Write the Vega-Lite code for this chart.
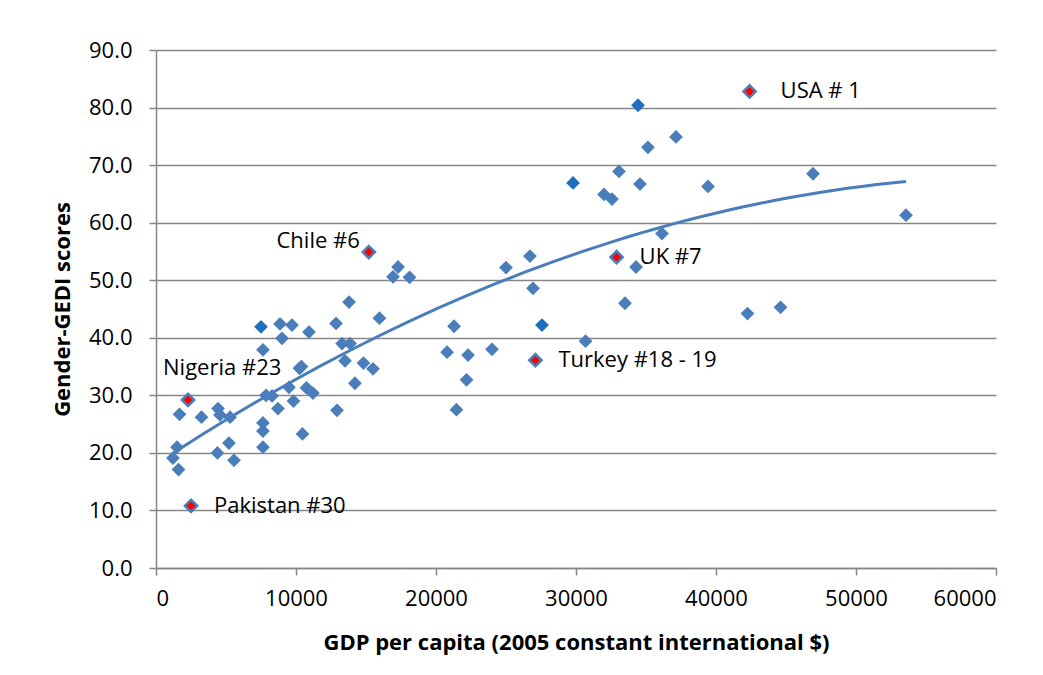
{
  "$schema": "https://vega.github.io/schema/vega-lite/v6.json",
  "width": 840,
  "height": 518,
  "autosize": "none",
  "padding": {"left": 156, "top": 50, "right": 47, "bottom": 107},
  "background": "white",
  "config": {
    "view": {"stroke": null},
    "font": "Open Sans",
    "axis": {
      "labelFont": "Open Sans",
      "labelFontSize": 22,
      "labelColor": "#000000",
      "titleFont": "Open Sans",
      "titleFontSize": 22,
      "titleFontWeight": "bold",
      "titleColor": "#000000",
      "domainColor": "#868686",
      "domainWidth": 1.5,
      "tickColor": "#868686",
      "tickWidth": 1.5,
      "tickSize": 7,
      "gridColor": "#868686",
      "gridWidth": 1.5
    }
  },
  "datasets": {
    "pts": [
      {"country": "USA # 1", "gdp": 42400, "score": 82.8, "type": "red"},
      {"country": "UK #7", "gdp": 32900, "score": 54.0, "type": "red"},
      {"country": "Chile #6", "gdp": 15200, "score": 54.9, "type": "red"},
      {"country": "Turkey #18 - 19", "gdp": 27100, "score": 36.1, "type": "red"},
      {"country": "Nigeria #23", "gdp": 2290, "score": 29.2, "type": "red"},
      {"country": "Pakistan #30", "gdp": 2500, "score": 10.8, "type": "red"},
      {"country": "", "gdp": 34430, "score": 80.4, "type": "dark"},
      {"country": "", "gdp": 37140, "score": 74.9, "type": "normal"},
      {"country": "", "gdp": 35140, "score": 73.1, "type": "normal"},
      {"country": "", "gdp": 29790, "score": 66.9, "type": "dark"},
      {"country": "", "gdp": 33070, "score": 68.9, "type": "normal"},
      {"country": "", "gdp": 34570, "score": 66.7, "type": "normal"},
      {"country": "", "gdp": 39430, "score": 66.3, "type": "normal"},
      {"country": "", "gdp": 46930, "score": 68.5, "type": "normal"},
      {"country": "", "gdp": 32000, "score": 64.9, "type": "normal"},
      {"country": "", "gdp": 32570, "score": 64.1, "type": "normal"},
      {"country": "", "gdp": 36140, "score": 58.1, "type": "normal"},
      {"country": "", "gdp": 53570, "score": 61.3, "type": "normal"},
      {"country": "", "gdp": 34290, "score": 52.3, "type": "normal"},
      {"country": "", "gdp": 26710, "score": 54.2, "type": "normal"},
      {"country": "", "gdp": 25000, "score": 52.2, "type": "normal"},
      {"country": "", "gdp": 26930, "score": 48.6, "type": "normal"},
      {"country": "", "gdp": 27570, "score": 42.2, "type": "dark"},
      {"country": "", "gdp": 33500, "score": 46.0, "type": "normal"},
      {"country": "", "gdp": 30680, "score": 39.4, "type": "normal"},
      {"country": "", "gdp": 42250, "score": 44.2, "type": "normal"},
      {"country": "", "gdp": 44610, "score": 45.3, "type": "normal"},
      {"country": "", "gdp": 17290, "score": 52.3, "type": "normal"},
      {"country": "", "gdp": 16930, "score": 50.6, "type": "normal"},
      {"country": "", "gdp": 18110, "score": 50.5, "type": "normal"},
      {"country": "", "gdp": 13790, "score": 46.2, "type": "normal"},
      {"country": "", "gdp": 15960, "score": 43.4, "type": "normal"},
      {"country": "", "gdp": 12860, "score": 42.5, "type": "normal"},
      {"country": "", "gdp": 10930, "score": 41.0, "type": "normal"},
      {"country": "", "gdp": 8860, "score": 42.4, "type": "normal"},
      {"country": "", "gdp": 9710, "score": 42.2, "type": "normal"},
      {"country": "", "gdp": 7500, "score": 41.9, "type": "dark"},
      {"country": "", "gdp": 9000, "score": 39.9, "type": "normal"},
      {"country": "", "gdp": 7640, "score": 37.9, "type": "normal"},
      {"country": "", "gdp": 13290, "score": 39.0, "type": "normal"},
      {"country": "", "gdp": 13860, "score": 39.0, "type": "normal"},
      {"country": "", "gdp": 13500, "score": 36.0, "type": "normal"},
      {"country": "", "gdp": 14820, "score": 35.6, "type": "normal"},
      {"country": "", "gdp": 15500, "score": 34.6, "type": "normal"},
      {"country": "", "gdp": 21290, "score": 42.0, "type": "normal"},
      {"country": "", "gdp": 20790, "score": 37.5, "type": "normal"},
      {"country": "", "gdp": 22290, "score": 37.0, "type": "normal"},
      {"country": "", "gdp": 24000, "score": 38.0, "type": "normal"},
      {"country": "", "gdp": 22180, "score": 32.7, "type": "normal"},
      {"country": "", "gdp": 21460, "score": 27.5, "type": "normal"},
      {"country": "", "gdp": 10390, "score": 35.0, "type": "normal"},
      {"country": "", "gdp": 10250, "score": 34.7, "type": "normal"},
      {"country": "", "gdp": 14210, "score": 32.1, "type": "normal"},
      {"country": "", "gdp": 9500, "score": 31.4, "type": "normal"},
      {"country": "", "gdp": 10750, "score": 31.3, "type": "normal"},
      {"country": "", "gdp": 11210, "score": 30.4, "type": "normal"},
      {"country": "", "gdp": 9820, "score": 29.0, "type": "normal"},
      {"country": "", "gdp": 7860, "score": 30.0, "type": "normal"},
      {"country": "", "gdp": 8290, "score": 29.9, "type": "normal"},
      {"country": "", "gdp": 8710, "score": 27.7, "type": "normal"},
      {"country": "", "gdp": 12930, "score": 27.4, "type": "normal"},
      {"country": "", "gdp": 7640, "score": 25.2, "type": "normal"},
      {"country": "", "gdp": 7640, "score": 23.8, "type": "normal"},
      {"country": "", "gdp": 10460, "score": 23.3, "type": "normal"},
      {"country": "", "gdp": 7640, "score": 21.0, "type": "normal"},
      {"country": "", "gdp": 1680, "score": 26.7, "type": "normal"},
      {"country": "", "gdp": 3250, "score": 26.2, "type": "normal"},
      {"country": "", "gdp": 4430, "score": 27.7, "type": "normal"},
      {"country": "", "gdp": 4570, "score": 26.6, "type": "normal"},
      {"country": "", "gdp": 5290, "score": 26.2, "type": "normal"},
      {"country": "", "gdp": 1500, "score": 21.0, "type": "normal"},
      {"country": "", "gdp": 1210, "score": 19.1, "type": "normal"},
      {"country": "", "gdp": 1610, "score": 17.1, "type": "normal"},
      {"country": "", "gdp": 4390, "score": 20.0, "type": "normal"},
      {"country": "", "gdp": 5210, "score": 21.7, "type": "normal"},
      {"country": "", "gdp": 5570, "score": 18.7, "type": "normal"}
    ]
  },
  "data": {"name": "pts"},
  "encoding": {
    "x": {
      "field": "gdp",
      "type": "quantitative",
      "scale": {"domain": [0, 60000], "nice": false, "zero": false},
      "axis": {
        "title": "GDP per capita (2005 constant international $)",
        "values": [0, 10000, 20000, 30000, 40000, 50000, 60000],
        "format": "d",
        "grid": false,
        "labelPadding": 13,
        "titleY": 74,
        "titleBaseline": "middle"
      }
    },
    "y": {
      "field": "score",
      "type": "quantitative",
      "scale": {"domain": [0, 90], "nice": false},
      "axis": {
        "title": "Gender-GEDI scores",
        "values": [0, 10, 20, 30, 40, 50, 60, 70, 80, 90],
        "format": ".1f",
        "grid": true,
        "labelPadding": 17,
        "titleX": -94,
        "titleAngle": -90,
        "titleBaseline": "middle"
      }
    }
  },
  "layer": [
    {
      "transform": [
        {"regression": "score", "on": "gdp", "method": "poly", "order": 2, "extent": [1210, 53570]}
      ],
      "mark": {"type": "line", "color": "#4A7EBB", "strokeWidth": 3}
    },
    {
      "transform": [{"filter": "datum.type != 'red'"}],
      "mark": {"type": "point", "shape": "diamond", "filled": true, "size": 190, "opacity": 1},
      "encoding": {
        "color": {
          "field": "type",
          "type": "nominal",
          "scale": {"domain": ["normal", "dark"], "range": ["#4A7EBB", "#1F6EC0"]},
          "legend": null
        }
      }
    },
    {
      "transform": [{"filter": "datum.type == 'red'"}],
      "mark": {"type": "point", "shape": "diamond", "filled": true, "size": 150, "fill": "#FF0000", "stroke": "#4A7EBB", "strokeWidth": 2.5, "opacity": 1}
    },
    {
      "transform": [{"filter": "datum.country == 'USA # 1'"}],
      "mark": {"type": "text", "align": "left", "baseline": "middle", "dx": 31, "fontSize": 22, "font": "Open Sans"},
      "encoding": {"text": {"field": "country"}}
    },
    {
      "transform": [{"filter": "datum.country == 'UK #7' || datum.country == 'Turkey #18 - 19' || datum.country == 'Pakistan #30'"}],
      "mark": {"type": "text", "align": "left", "baseline": "middle", "dx": 23, "fontSize": 22, "font": "Open Sans"},
      "encoding": {"text": {"field": "country"}}
    },
    {
      "transform": [{"filter": "datum.country == 'Chile #6'"}],
      "mark": {"type": "text", "align": "right", "baseline": "middle", "dx": -9, "dy": -11, "fontSize": 22, "font": "Open Sans"},
      "encoding": {"text": {"field": "country"}}
    },
    {
      "transform": [{"filter": "datum.country == 'Nigeria #23'"}],
      "mark": {"type": "text", "align": "left", "baseline": "middle", "dx": -25, "dy": -32, "fontSize": 22, "font": "Open Sans"},
      "encoding": {"text": {"field": "country"}}
    },
    {
      "data": {"values": [{"label": "R² = 0.6831"}]},
      "mark": {"type": "text", "align": "right", "baseline": "middle", "dx": 12, "fontSize": 22, "font": "Open Sans"},
      "encoding": {
        "x": {"datum": 60000},
        "y": {"datum": 6.1},
        "text": {"field": "label"}
      }
    }
  ]
}
